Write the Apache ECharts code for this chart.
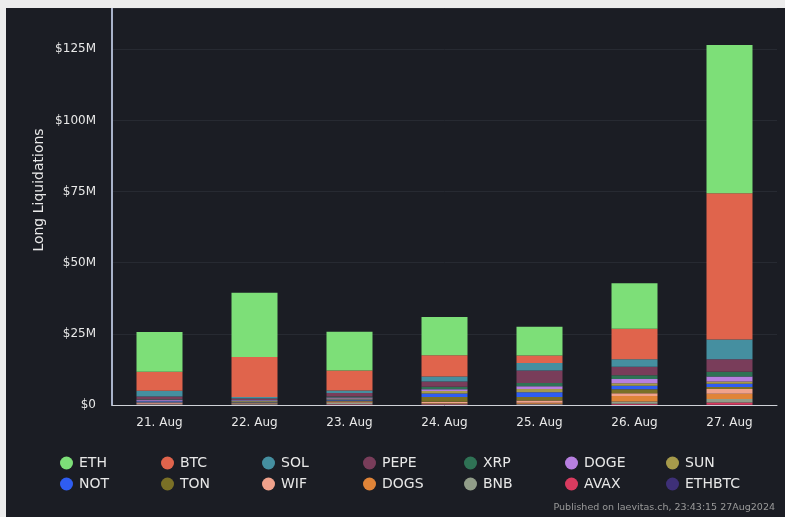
<!DOCTYPE html>
<html>
<head>
<meta charset="utf-8">
<script src="https://cdn.jsdelivr.net/npm/echarts@6.0.0/dist/echarts.min.js"></script>
<style>
  html, body { margin: 0; padding: 0; background: #ececec; }
  #chart { position: absolute; left: 6px; top: 8px; width: 779px; height: 509px; background: #1b1d24; }
</style>
</head>
<body>
<div id="chart"></div>
<script>
// values in $M
var days = ['21. Aug', '22. Aug', '23. Aug', '24. Aug', '25. Aug', '26. Aug', '27. Aug']

var ETH    = [14.0, 22.5, 13.6, 13.5, 10.1, 16.0, 52.1]
var BTC    = [6.6, 14.1, 7.0, 7.4, 2.65, 10.75, 51.4]
var SOL    = [2.1, 0.5, 0.9, 1.75, 2.6, 2.6, 6.9]
var PEPE   = [0.9, 0.5, 1.2, 1.85, 4.4, 3.0, 4.45]
var XRP    = [0.2, 0.1, 0.4, 0.95, 1.2, 1.3, 1.65]
var DOGE   = [0.4, 0.3, 0.3, 0.6, 0.9, 1.5, 1.75]
var SUN    = [0.1, 0.3, 0.4, 0.9, 1.2, 0.85, 0.8]
var NOT    = [0.4, 0.1, 0.3, 1.2, 1.6, 1.25, 1.15]
var TON    = [0.1, 0.2, 0.4, 1.65, 1.3, 1.4, 0.7]
var WIF    = [0.4, 0.2, 0.3, 0.45, 0.8, 0.95, 1.65]
var DOGS   = [0.05, 0.1, 0.1, 0.15, 0.3, 2.0, 1.85]
var BNB    = [0.2, 0.35, 0.55, 0.3, 0.25, 0.8, 1.2]
var AVAX   = [0.15, 0.1, 0.15, 0.2, 0.15, 0.35, 0.8]
var ETHBTC = [0.05, 0.05, 0.1, 0.05, 0.05, 0.05, 0.1]

var yTicks = [0, 25, 50, 75, 100, 125]

var coins = [
  ['ETH', ETH, '#7ddf78'],
  ['BTC', BTC, '#e0644c'],
  ['SOL', SOL, '#458fa0'],
  ['PEPE', PEPE, '#793d5a'],
  ['XRP', XRP, '#2f7255'],
  ['DOGE', DOGE, '#b77fe0'],
  ['SUN', SUN, '#a69a4b'],
  ['NOT', NOT, '#2f5df2'],
  ['TON', TON, '#7a7026'],
  ['WIF', WIF, '#f0a28c'],
  ['DOGS', DOGS, '#e08438'],
  ['BNB', BNB, '#919d89'],
  ['AVAX', AVAX, '#d83b5f'],
  ['ETHBTC', ETHBTC, '#3e3077']
]

var font = 'DejaVu Sans, sans-serif'

// echarts stacks first series at the bottom, so go in reverse
var series = coins.slice().reverse().map(function (c) {
  return {
    name: c[0],
    type: 'bar',
    stack: 'total',
    barWidth: 46,
    data: c[1],
    itemStyle: { color: c[2] }
  }
})

// one legend per item so the columns line up like the original grid
var legends = coins.map(function (c, i) {
  return {
    data: [c[0]],
    left: 49 + (i % 7) * 101,
    top: i < 7 ? 443 : 464,
    icon: 'circle',
    itemWidth: 13,
    itemHeight: 13,
    itemGap: 0,
    textStyle: { color: '#e8e8e8', fontFamily: font, fontSize: 14, padding: [0, 0, 0, 1] }
  }
})

var chart = echarts.init(document.getElementById('chart'))
chart.setOption({
  backgroundColor: '#1b1d24',
  animation: false,
  grid: { left: 106, right: 8, top: 0, bottom: 112 },
  legend: legends,
  xAxis: {
    type: 'category',
    data: days,
    axisLine: { lineStyle: { color: '#cfd2d8', width: 1 } },
    axisTick: { alignWithLabel: true, length: 10, lineStyle: { color: '#cfd2d8' } },
    axisLabel: { color: '#e8e8e8', fontFamily: font, fontSize: 12, margin: 12 }
  },
  yAxis: {
    type: 'value',
    min: 0,
    max: 139.5,
    interval: 25,
    axisLine: { show: true, lineStyle: { color: '#a9b3ca', width: 2 } },
    axisTick: { show: false },
    splitLine: { lineStyle: { color: '#272a32', width: 1 } },
    axisLabel: {
      color: '#e8e8e8', fontFamily: font, fontSize: 12, margin: 16,
      showMaxLabel: false,
      formatter: function (v) {
        if (yTicks.indexOf(v) < 0) return ''
        return v === 0 ? '$0' : '$' + v + 'M'
      }
    }
  },
  graphic: [
    {
      type: 'text', x: 33, y: 182, rotation: Math.PI / 2,
      style: { text: 'Long Liquidations', fill: '#e8e8e8', font: '14px ' + font, align: 'center', verticalAlign: 'middle' }
    },
    {
      type: 'text', x: 769, y: 500,
      style: { text: 'Published on laevitas.ch, 23:43:15 27Aug2024', fill: '#9a9a9a', font: '9.5px ' + font, align: 'right', verticalAlign: 'middle' }
    }
  ],
  series: series
})
</script>
</body>
</html>
